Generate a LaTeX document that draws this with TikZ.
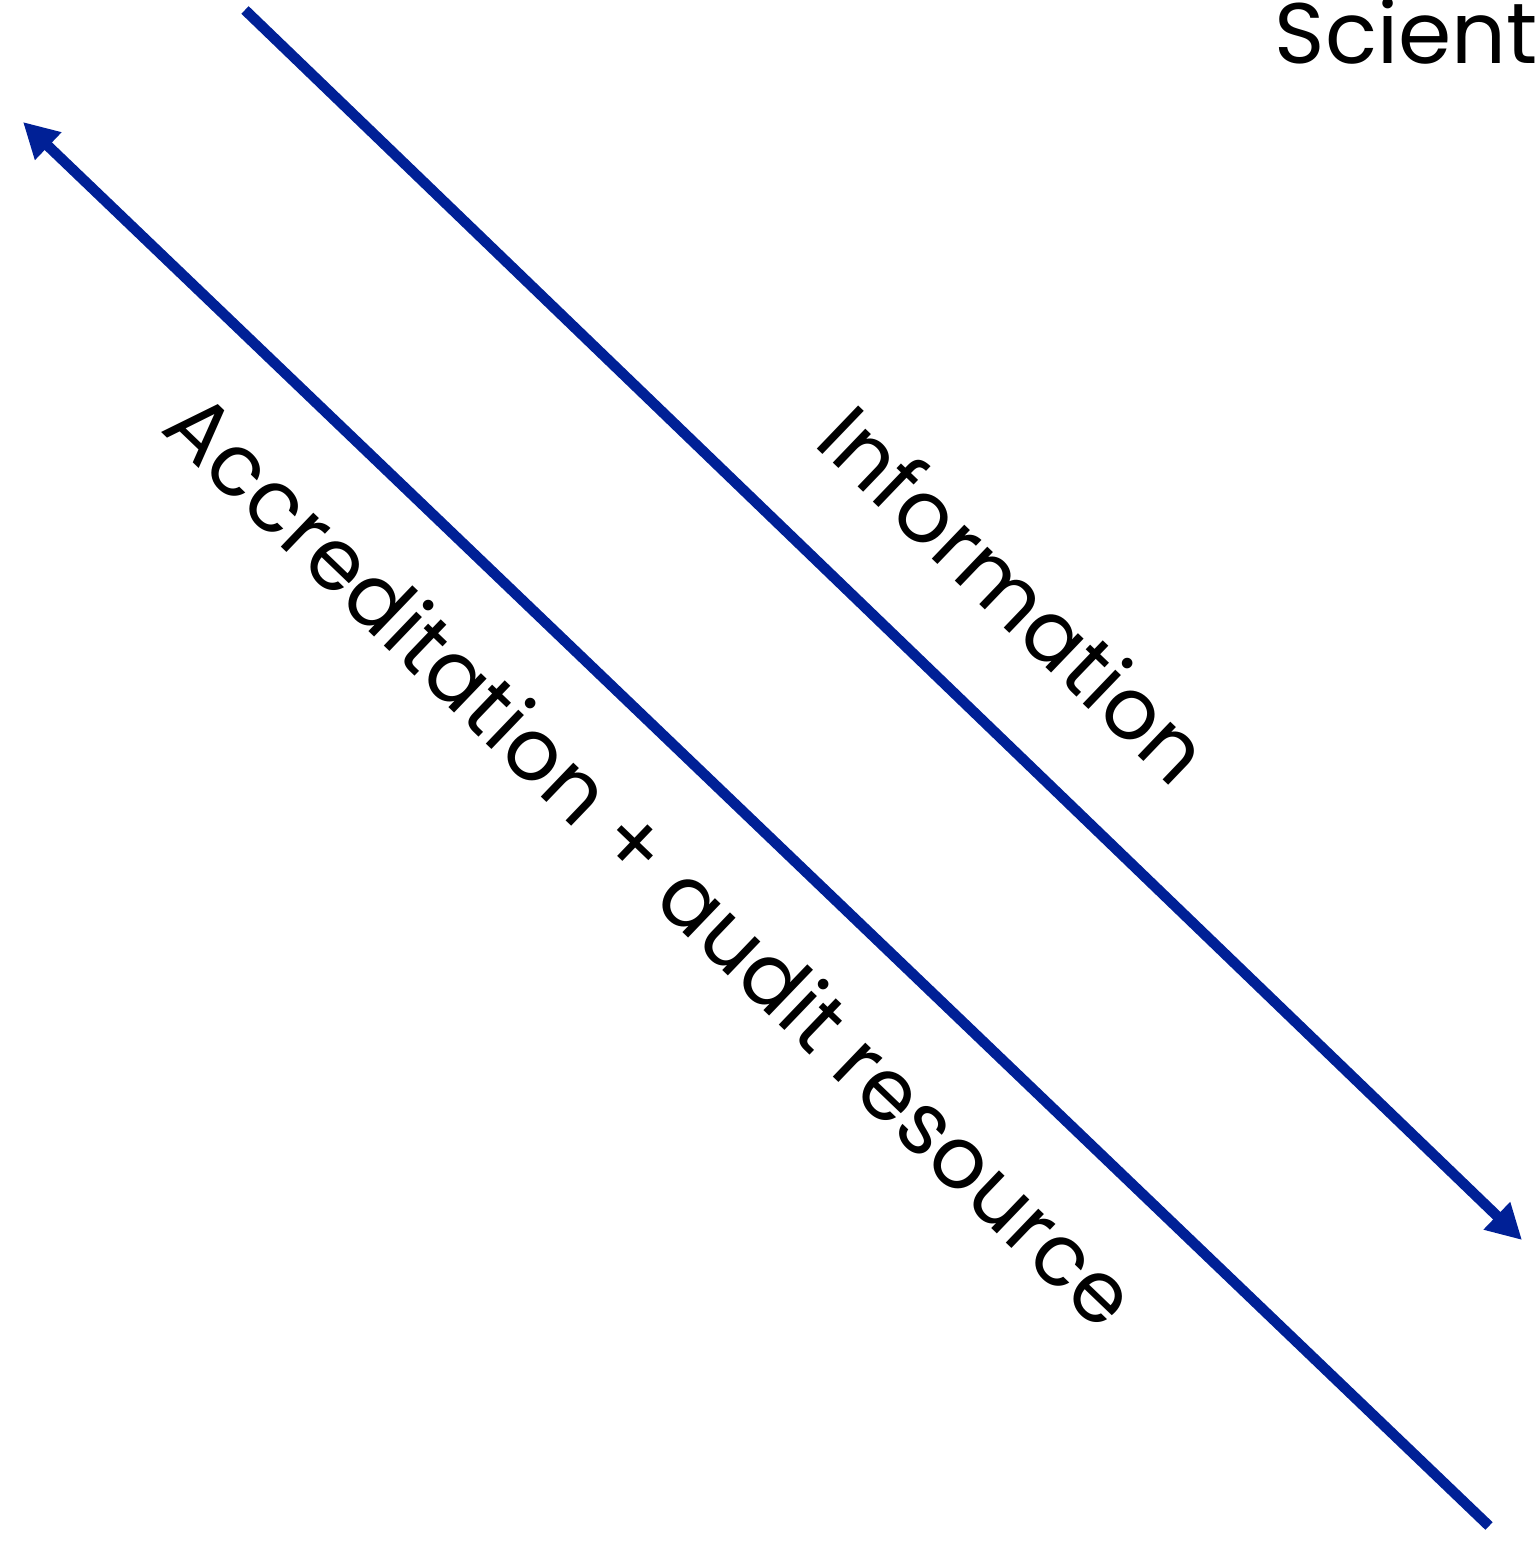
\documentclass[tikz,border=0pt]{standalone}
\usepackage{fontspec}
\setmainfont{Poppins}
\usetikzlibrary{arrows.meta}
\definecolor{flowblue}{RGB}{0,32,150}
\tikzset{
  flow/.style  = {draw=flowblue, line width=1.05mm, -{Triangle[length=3.5mm, width=3.6mm]}},
  lbl/.style   = {font=\fontsize{24.4}{29}\selectfont, rotate=-43.8, inner sep=0pt},
  actor/.style = {font=\fontsize{24.4}{29}\selectfont, inner sep=0pt}
}
\begin{document}
\begin{tikzpicture}[x=0.1mm, y=-0.1mm]
  \useasboundingbox (0,0) rectangle (1538,1543);

  \node[actor, anchor=base west] (scient) at (1274,64) {Scient};

  % free ends of the two flows
  \coordinate (infostart) at (245,10);
  \coordinate (infoend)   at (1522,1240);
  \coordinate (accrstart) at (1489,1526);
  \coordinate (accrend)   at (23,122);

  \draw[flow] (infostart) -- (infoend);
  \draw[flow] (accrstart) -- (accrend);

  \node[lbl, anchor=base] (info) at (993,617) {Information};
  \node[lbl, anchor=base] (accr) at (630,882) {Accreditation + audit resource};

\end{tikzpicture}
\end{document}
